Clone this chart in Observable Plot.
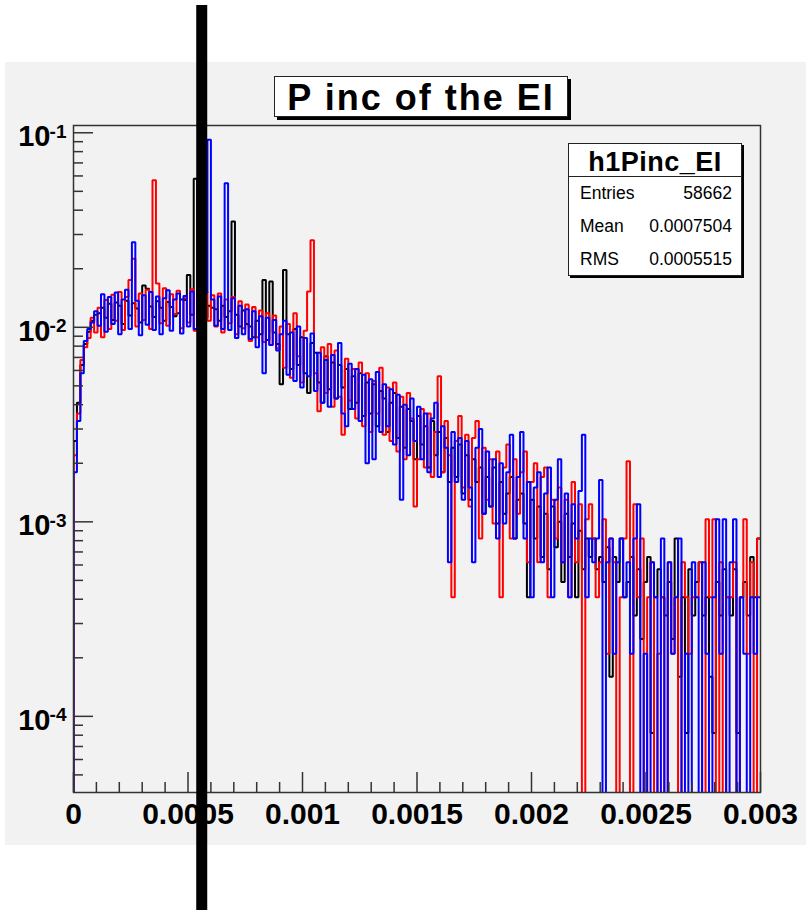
<!DOCTYPE html>
<html>
<head>
<meta charset="utf-8">
<script src="https://cdn.jsdelivr.net/npm/d3@7"></script>
<script src="https://cdn.jsdelivr.net/npm/@observablehq/plot@0.6"></script>
<style>
html, body { margin: 0; padding: 0; background: #fff; }
#wrap { position: relative; width: 806px; height: 912px; overflow: hidden;
  font-family: "Liberation Sans", Arial, Helvetica, sans-serif; }
#panel { position: absolute; left: 5px; top: 62px; width: 801px; height: 783px; background: #f2f2f2; }
#chart { position: absolute; left: 0; top: 0; }
#title { position: absolute; left: 274px; top: 76px; width: 292px; height: 39px;
  border: 1px solid #222; background: #fff; box-shadow: 3px 3px 0 #000;
  font-weight: bold; font-size: 36px; letter-spacing: 2px; line-height: 41px; text-align: center; color: #000; }
#stats { position: absolute; left: 568px; top: 143px; width: 172px; height: 131px;
  border: 1px solid #222; background: #fff; box-shadow: 2px 2px 0 #000; color: #000; }
#stats .hdr { height: 32px; border-bottom: 1px solid #222; font-weight: bold; font-size: 27px;
  line-height: 36px; text-align: center; letter-spacing: 0.5px; }
#stats .row { height: 33px; line-height: 33px; font-size: 17.5px; padding: 0 9px 0 11px;
  display: flex; justify-content: space-between; }
</style>
</head>
<body>
<div id="wrap">
  <div id="panel"></div>
  <div id="chart"></div>
  <div id="title"></div>
  <div id="stats"></div>
</div>
<script>
// ---- texts ----
const titleText = "P inc of the EI";
const statsName = "h1Pinc_EI";
const statsLabels = ["Entries", "Mean", "RMS"];
const statsValues = ["58662", "0.0007504", "0.0005515"];

// ---- axes ----
const xMin = 0, xMax = 0.003;
const yMin = 4.06e-5, yMax = 0.109;
const xTickValues = [0, 0.0005, 0.001, 0.0015, 0.002, 0.0025, 0.003];
const xTickLabels = ["0", "0.0005", "0.001", "0.0015", "0.002", "0.0025", "0.003"];
const xMinorStep = 0.0001;
const yMajorTicks = [1e-4, 1e-3, 1e-2, 1e-1];
const yTickBase = "10";
const yTickExponents = ["-4", "-3", "-2", "-1"];
const markerX = 0.00056; // thick vertical marker line

// ---- histogram contents (200 bins from 0 to 0.003) ----
const nBins = 200;
const blackValues = [
  0.0026, 0.0041, 0.0064, 0.0082, 0.0095, 0.0108, 0.0116, 0.0118, 0.0126, 0.0112,
  0.0132, 0.0109, 0.0134, 0.0129, 0.0104, 0.0137, 0.0115, 0.0133, 0.0125, 0.0106,
  0.0164, 0.0158, 0.0128, 0.0113, 0.0136, 0.0126, 0.0108, 0.0135, 0.0127, 0.0114,
  0.0118, 0.0139, 0.0138, 0.0186, 0.0116, 0.058, 0.0131, 0.0127, 0.0112, 0.0129,
  0.0126, 0.0124, 0.0108, 0.0129, 0.0113, 0.0121, 0.035, 0.0116, 0.0101, 0.0122,
  0.0104, 0.0101, 0.0089, 0.0108, 0.0092, 0.0175, 0.0086, 0.0172, 0.0094, 0.0082,
  0.0051, 0.0197, 0.0092, 0.0061, 0.0098, 0.0064, 0.0089, 0.0058, 0.0046, 0.0083,
  0.0074, 0.0052, 0.0041, 0.0071, 0.0048, 0.0066, 0.0043, 0.0064, 0.0049, 0.0061,
  0.0038, 0.0056, 0.0041, 0.0058, 0.0035, 0.0052, 0.0036, 0.0051, 0.0031, 0.0047,
  0.0043, 0.0029, 0.0041, 0.0046, 0.0027, 0.0039, 0.0024, 0.0038, 0.0033, 0.0021,
  0.0035, 0.0025, 0.0031, 0.0019, 0.0033, 0.0022, 0.0029, 0.0018, 0.0027, 0.0016,
  0.0024, 0.0017, 0.0025, 0.0014, 0.0022, 0.0013, 0.0021, 0.0016, 0.0019, 0.0011,
  0.0017, 0.0012, 0.0019, 0.00098, 0.0016, 0.0011, 0.0014, 0.0017, 0.00082, 0.0013,
  0.0014, 0.00098, 0.00041, 0.0013, 0.00082, 0.0012, 0.00066, 0.0011, 0.00057, 0.0012,
  0.00074, 0.0010, 0.00049, 0.0011, 0.00066, 0.00098, 0.00041, 0.0009, 0.00057, 0.00082,
  0.00066, 0.00082, 0.00057, 0.00066, 0.00049, 0.00074, 0.00016, 0.00066, 0.00049, 0.00082,
  0.00041, 0.00049, 0.00066, 0.00033, 0.00057, 0.00025, 0.00049, 0.00066, 0.000082, 0.00041,
  0.00057, 0.00041, 0.00033, 0.00049, 0.00025, 0.00082, 0.00016, 0.00041, 0.000082, 0.00057,
  0.00033, 0.00049, 0.00062, 0.00033, 0.00041, 0.00016, 0.000082, 0.00049, 0.00033, 0.00057,
  0.00041, 0.00033, 0.00057, 0.000082, 0.00041, 0.00049, 0.00033, 0.00066, 0.00041, 0.00082
];
const redValues = [
  0.0022, 0.0036, 0.0068, 0.0079, 0.0088, 0.0112, 0.0094, 0.0126, 0.0089, 0.0138,
  0.0098, 0.0147, 0.0108, 0.0152, 0.0097, 0.0143, 0.0175, 0.0225, 0.0101, 0.0149,
  0.0109, 0.0156, 0.0098, 0.057, 0.0168, 0.0105, 0.0159, 0.0102, 0.0148, 0.0117,
  0.0154, 0.0099, 0.0141, 0.0106, 0.0157, 0.0096, 0.0138, 0.0093, 0.0152, 0.0108,
  0.0146, 0.0101, 0.0149, 0.0094, 0.0139, 0.0105, 0.0143, 0.0092, 0.0136, 0.0099,
  0.0131, 0.0085, 0.0127, 0.0089, 0.0122, 0.0084, 0.0118, 0.0081, 0.0115, 0.0078,
  0.0101, 0.0062, 0.0104, 0.0055, 0.0118, 0.0071, 0.0052, 0.0096, 0.0153, 0.028,
  0.0058, 0.0037, 0.0079, 0.0046, 0.0082, 0.0039, 0.0076, 0.0044, 0.0028, 0.0069,
  0.0042, 0.0061, 0.0034, 0.0066, 0.0031, 0.0058, 0.0029, 0.0053, 0.0036, 0.0062,
  0.0028, 0.0049, 0.0026, 0.0052, 0.0023, 0.0044, 0.0021, 0.0046, 0.0034, 0.0012,
  0.0021, 0.0038, 0.0019, 0.0036, 0.0017, 0.0029, 0.0056, 0.0018, 0.0033, 0.0022,
  0.00041, 0.0026, 0.0035, 0.0015, 0.0028, 0.0012, 0.0027, 0.0033, 0.00082, 0.0024,
  0.0013, 0.0021, 0.00098, 0.0023, 0.00041, 0.0019, 0.0025, 0.00082, 0.0021, 0.0011,
  0.0018, 0.0023, 0.00062, 0.0016, 0.0020, 0.00062, 0.0017, 0.0019, 0.00041, 0.0013,
  0.00082, 0.0015, 0.00062, 0.0013, 0.00041, 0.0016, 0.00062, 0.00123, 0, 0.00103,
  0.00123, 0.00082, 0.00041, 0.00062, 0.00103, 0.00021, 0.00082, 0.00062, 0, 0.00041,
  0.00082, 0.00205, 0, 0.00123, 0.00041, 0.00082, 0, 0.00041, 0.00062, 0,
  0.00021, 0.00041, 0, 0.00062, 0.00021, 0.00041, 0, 0.00062, 0.00041, 0.00021,
  0.00041, 0.00041, 0.00062, 0, 0.00103, 0.00041, 0.00103, 0, 0.00062, 0,
  0.00041, 0.00041, 0.00062, 0, 0.00041, 0.00103, 0.00021, 0.00062, 0, 0.00082
];
const blueValues = [
  0.0018, 0.0033, 0.0058, 0.0085, 0.0098, 0.0106, 0.0121, 0.0102, 0.0148, 0.0095,
  0.0143, 0.0104, 0.0151, 0.0092, 0.0139, 0.0156, 0.0098, 0.0274, 0.0137, 0.0091,
  0.0146, 0.0103, 0.0152, 0.0097, 0.0144, 0.0092, 0.0141, 0.0155, 0.0096, 0.0139,
  0.0149, 0.0093, 0.0145, 0.0101, 0.0153, 0.0098, 0.0147, 0.0105, 0.0151, 0.092,
  0.0139, 0.0102, 0.0144, 0.0098, 0.055, 0.0097, 0.0141, 0.0088, 0.0129, 0.0092,
  0.0124, 0.0087, 0.0121, 0.0079, 0.0114, 0.0058, 0.0112, 0.0081, 0.0109, 0.0076,
  0.0092, 0.0108, 0.0057, 0.0094, 0.0053, 0.0101, 0.0049, 0.0088, 0.0056, 0.0093,
  0.0047, 0.0074, 0.0041, 0.0068, 0.0039, 0.0072, 0.0043, 0.0083, 0.0036, 0.0031,
  0.0065, 0.0038, 0.0061, 0.0033, 0.0057, 0.0020, 0.0054, 0.0021, 0.0059, 0.0029,
  0.0051, 0.0031, 0.0048, 0.0025, 0.0045, 0.0013, 0.0040, 0.0022, 0.0043, 0.0026,
  0.0039, 0.0021, 0.0036, 0.0018, 0.0034, 0.0041, 0.0017, 0.0031, 0.0024, 0.00062,
  0.0029, 0.0016, 0.0027, 0.0013, 0.0026, 0.0015, 0.00062, 0.0024, 0.0030, 0.0011,
  0.0023, 0.0012, 0.0021, 0.00082, 0.0020, 0.00098, 0.0018, 0.0028, 0.00082, 0.0017,
  0.0029, 0.00082, 0.0016, 0.00041, 0.0015, 0.0018, 0.00062, 0.0014, 0.0019, 0.00041,
  0.0013, 0.0021, 0.00062, 0.0014, 0.00041, 0.00123, 0.00082, 0.00144, 0.0028, 0.00041,
  0.00082, 0.00062, 0.00082, 0.00164, 0, 0.00062, 0.00082, 0.00021, 0.00062, 0.00082,
  0.00041, 0.00062, 0.00021, 0.00082, 0.00123, 0, 0.00021, 0, 0.00062, 0.00041,
  0, 0.00082, 0, 0.00062, 0.00021, 0.00041, 0.00082, 0, 0.00021, 0,
  0.00062, 0.00041, 0, 0.00062, 0.00021, 0, 0.00041, 0.00103, 0.00021, 0.00103,
  0, 0.00062, 0.00103, 0, 0.00041, 0.00021, 0, 0.00041, 0.00021, 0.00041
];
const seriesColors = {black: "#000000", red: "#ff0000", blue: "#0000ff"};

// ---- build step outlines (ROOT "hist" style) ----
const binWidth = (xMax - xMin) / nBins;
const belowAxis = 1e-7; // empty bins drop below the frame (clipped)
function outline(values) {
  const pts = [{x: xMin, y: belowAxis}];
  values.forEach((v, i) => pts.push({x: xMin + i * binWidth, y: v > 0 ? v : belowAxis}));
  const last = values[values.length - 1];
  pts.push({x: xMax, y: last > 0 ? last : belowAxis});
  return pts;
}

const xMinorTicks = d3.range(xMin, xMax + 1e-12, xMinorStep).filter(t => !xTickValues.some(m => Math.abs(m - t) < 1e-9));
const yMinorTicks = [];
for (let e = -5; e <= -1; e++) for (let m = 2; m <= 9; m++) {
  const t = m * Math.pow(10, e);
  if (t > yMin && t < yMax) yMinorTicks.push(t);
}

const W = 806, H = 912, mL = 73, mR = 46, mT = 125, mB = 120;
const frameW = W - mL - mR, frameH = H - mT - mB;
const lineStyle = {x: "x", y: "y", curve: "step-after", strokeWidth: 2, clip: true, strokeLinejoin: "miter", strokeLinecap: "butt"};

const plot = Plot.plot({
  width: W, height: H,
  marginLeft: mL, marginRight: mR, marginTop: mT, marginBottom: mB,
  style: {background: "transparent", fontFamily: "'Liberation Sans', Arial, Helvetica, sans-serif", overflow: "visible"},
  x: {domain: [xMin, xMax], axis: null},
  y: {type: "log", domain: [yMin, yMax], axis: null},
  marks: [
    Plot.line(outline(blackValues), {...lineStyle, stroke: seriesColors.black}),
    Plot.line(outline(redValues), {...lineStyle, stroke: seriesColors.red}),
    Plot.line(outline(blueValues), {...lineStyle, stroke: seriesColors.blue}),
    Plot.frame({stroke: "#333", strokeWidth: 1.5}),
    Plot.tickY(yMinorTicks, {y: d => d, stroke: "#333", strokeWidth: 1.5, insetRight: frameW - 10}),
    Plot.tickY(yMajorTicks, {y: d => d, stroke: "#333", strokeWidth: 1.5, insetRight: frameW - 20}),
    Plot.tickX(xMinorTicks, {x: d => d, stroke: "#333", strokeWidth: 1.5, insetTop: frameH - 10}),
    Plot.tickX(xTickValues, {x: d => d, stroke: "#333", strokeWidth: 1.5, insetTop: frameH - 20}),
    Plot.text(yMajorTicks, {y: d => d, frameAnchor: "left", text: () => yTickBase, textAnchor: "end",
      lineAnchor: "bottom", dx: -23, dy: 13.5, fontSize: 29, fontWeight: "bold", fill: "#000"}),
    Plot.text(yMajorTicks, {y: d => d, frameAnchor: "left", text: (d, i) => yTickExponents[i], textAnchor: "end",
      lineAnchor: "bottom", dx: -7, dy: 5, fontSize: 19, fontWeight: "bold", fill: "#000"}),
    Plot.text(xTickValues, {x: d => d, frameAnchor: "bottom", text: (d, i) => xTickLabels[i], textAnchor: "middle",
      lineAnchor: "bottom", dy: 31, fontSize: 30, fontWeight: "bold", fill: "#000"}),
    Plot.ruleX([markerX], {stroke: "#000", strokeWidth: 11, insetTop: -120, insetBottom: -118})
  ]
});
document.getElementById("chart").appendChild(plot);

document.getElementById("title").textContent = titleText;
const stats = document.getElementById("stats");
const hdr = document.createElement("div");
hdr.className = "hdr"; hdr.textContent = statsName; stats.appendChild(hdr);
statsLabels.forEach((lab, i) => {
  const row = document.createElement("div");
  row.className = "row";
  const a = document.createElement("span"); a.textContent = lab;
  const b = document.createElement("span"); b.textContent = statsValues[i];
  row.appendChild(a); row.appendChild(b); stats.appendChild(row);
});
</script>
</body>
</html>
